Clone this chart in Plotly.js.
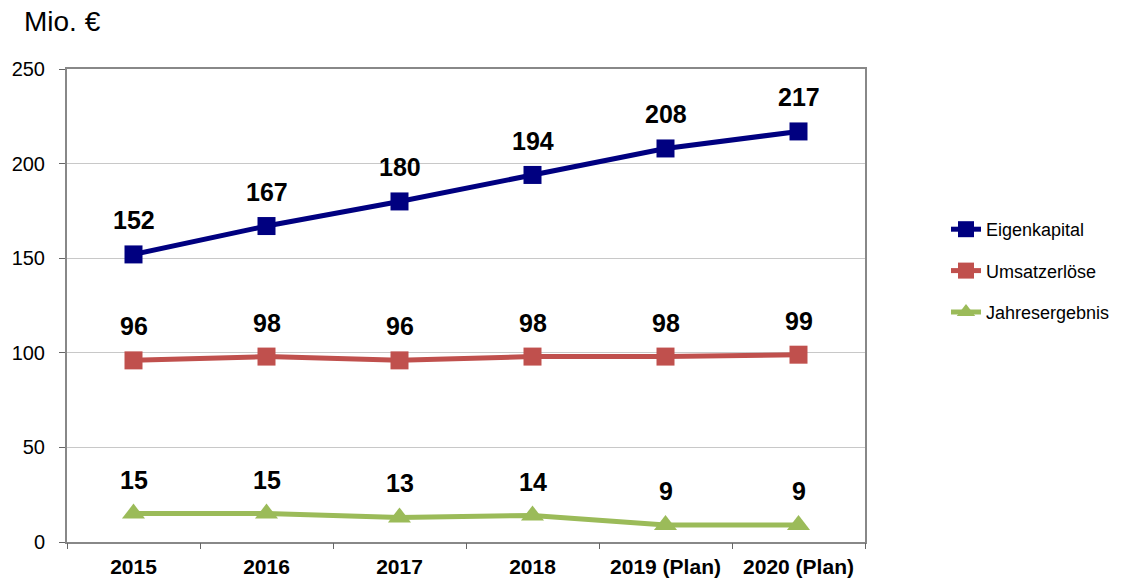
<!DOCTYPE html>
<html>
<head>
<meta charset="utf-8">
<script src="https://cdn.plot.ly/plotly-3.0.1.min.js"></script>
<style>html,body{margin:0;padding:0;background:#fff;}#chart{width:1132px;height:581px;}</style>
</head>
<body>
<div id="chart"></div>
<script>
const categories = ["2015", "2016", "2017", "2018", "2019 (Plan)", "2020 (Plan)"];
const eigenkapital = [152, 167, 180, 194, 208, 217];
const umsatzerloese = [96, 98, 96, 98, 98, 99];
const jahresergebnis = [15, 15, 13, 14, 9, 9];
const seriesNames = ["Eigenkapital", "Umsatzerlöse", "Jahresergebnis"];
const yTicks = [0, 50, 100, 150, 200, 250];

const font = "Arial, 'Liberation Sans', sans-serif";
const colors = ["#000080", "#C0504D", "#9BBB59"];
const symbols = ["square", "square", "triangle-up"];
const allSeries = [eigenkapital, umsatzerloese, jahresergebnis];
const catIndex = categories.map((c, i) => i);

const traces = allSeries.map((vals, i) => ({
  type: "scatter",
  mode: "lines+markers",
  x: catIndex,
  y: vals,
  name: seriesNames[i],
  legendgroup: "g" + i,
  line: {color: colors[i], width: 5},
  marker: {color: colors[i], symbol: symbols[i], size: i === 2 ? 20 : 18, line: {width: 0}},
  cliponaxis: false
}));

const annotations = [];
allSeries.forEach((vals) => {
  vals.forEach((v, j) => {
    annotations.push({
      x: catIndex[j], y: v, xref: "x", yref: "y",
      text: "<b>" + v + "</b>", showarrow: false,
      yshift: 34, font: {family: font, size: 25, color: "#000"}
    });
  });
});
annotations.push({
  x: (22 - 67) / 798, y: (542 - 22) / 473, xref: "paper", yref: "paper",
  xanchor: "left", yanchor: "middle",
  text: "Mio. €", showarrow: false, font: {family: font, size: 28, color: "#000"}
});

const layout = {
  width: 1132, height: 581,
  margin: {l: 67, r: 267, t: 69, b: 39},
  paper_bgcolor: "#fff", plot_bgcolor: "#fff",
  font: {family: font, color: "#000"},
  showlegend: true,
  legend: {
    x: (946 - 67) / 798, y: (542 - 211) / 473, xanchor: "left", yanchor: "top",
    font: {family: font, size: 18, color: "#000"},
    traceorder: "grouped",
    tracegroupgap: 15, bgcolor: "rgba(0,0,0,0)"
  },
  xaxis: {
    type: "linear", range: [-0.5, 5.5],
    tickvals: catIndex, ticktext: categories,
    ticks: "", showgrid: false, zeroline: false, ticklabelstandoff: 5,
    showline: true, linecolor: "#888", linewidth: 2, mirror: true,
    tickfont: {family: font, size: 21, color: "#000", weight: "bold"},
    fixedrange: true
  },
  xaxis2: {
    overlaying: "x", matches: "x", range: [-0.5, 5.5],
    tickvals: [-0.5, 0.5, 1.5, 2.5, 3.5, 4.5, 5.5], showticklabels: false,
    ticks: "outside", ticklen: 6, tickcolor: "#666", showgrid: false, zeroline: false
  },
  yaxis: {
    range: [0, 250], tickvals: yTicks, ticktext: yTicks.map(String),
    ticks: "outside", ticklen: 6, tickcolor: "#666", ticklabelstandoff: 10,
    showline: true, linecolor: "#888", linewidth: 2, mirror: true,
    showgrid: true, gridcolor: "#c8c8c8", gridwidth: 1, zeroline: false,
    tickfont: {family: font, size: 20, color: "#000"},
    fixedrange: true
  },
  annotations: annotations
};

traces.push({type: "scatter", x: [0], y: [0], xaxis: "x2", mode: "none", showlegend: false, hoverinfo: "skip"});

Plotly.newPlot("chart", traces, layout, {displayModeBar: false, staticPlot: true});
</script>
</body>
</html>
